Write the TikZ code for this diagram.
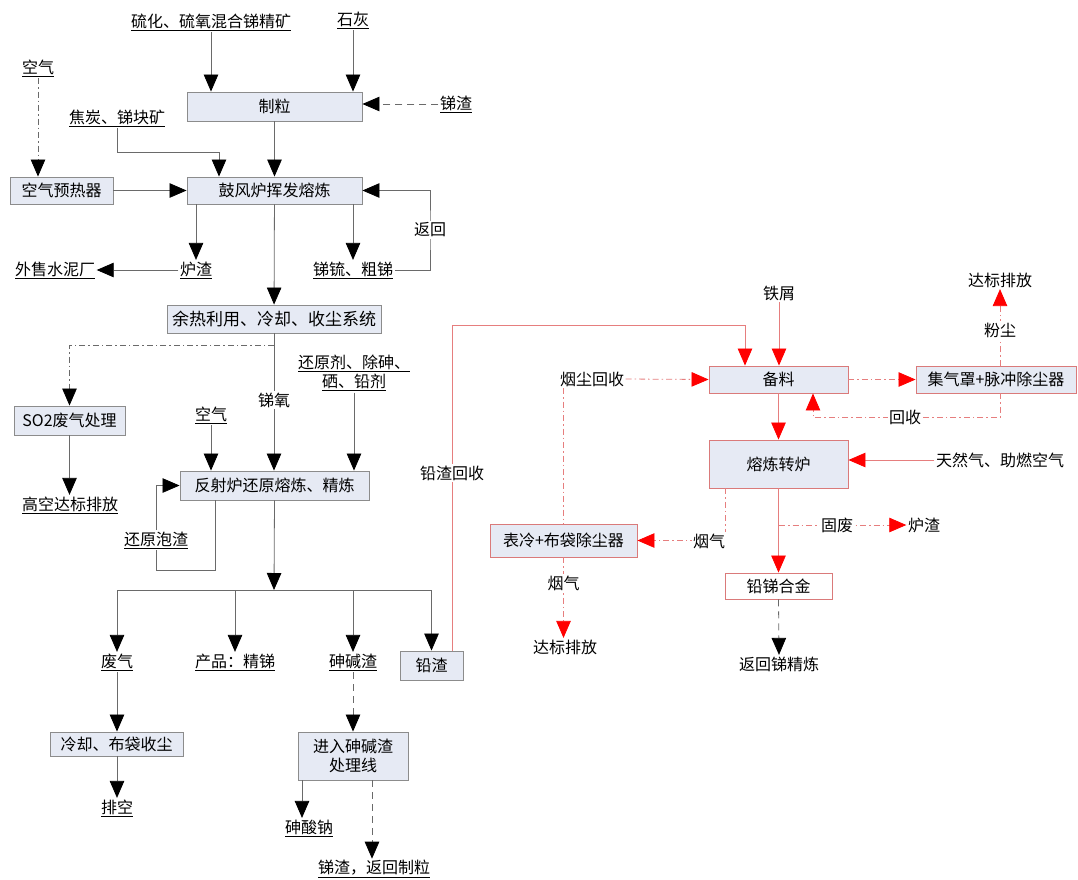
\documentclass[tikz,border=0pt]{standalone}
\usepackage{fontspec}
\setmainfont{Noto Sans CJK SC}
\usetikzlibrary{arrows.meta,calc}
\definecolor{bfill}{HTML}{E6EAF4}
\definecolor{bline}{HTML}{8C8C8C}
\definecolor{fline}{HTML}{6A6A6A}
\definecolor{rline}{HTML}{E67E7E}
\definecolor{rbord}{HTML}{DA7A7A}
\definecolor{rtip}{HTML}{FF0000}
\newcommand\ulx[1]{\underline{#1}}
\begin{document}
\begin{tikzpicture}[x=1pt,y=-1pt,
  font=\fontsize{16}{19}\selectfont,
  box/.style={draw=bline,fill=bfill,line width=0.9pt,inner sep=0pt,align=center},
  rbox/.style={draw=rbord,fill=bfill,line width=0.9pt,inner sep=0pt,align=center},
  lbl/.style={inner sep=1.5pt,align=center},
  onl/.style={inner sep=1.5pt,fill=white},
  flow/.style={draw=fline,line width=0.8pt,-{Triangle[width=14.5pt,length=17pt,fill=black,color=black]}},
  rflow/.style={draw=rline,line width=0.8pt,-{Triangle[width=14.5pt,length=17pt,fill=rtip,color=rtip]}},
  rplain/.style={draw=rline,line width=0.8pt},
  plain/.style={draw=fline,line width=0.8pt},
  dashdot/.style={dash pattern=on 6pt off 3pt on 1.5pt off 3pt},
  dsh/.style={dash pattern=on 7pt off 5pt}
]
\useasboundingbox[fill=white] (0,0) rectangle (1078,879);

% ---------- boxes ----------
\node[box,minimum width=175pt,minimum height=29pt] (zhili) at (274.5,106.5) {制粒};
\node[box,minimum width=175pt,minimum height=27pt] (gufeng) at (274.5,190.5) {鼓风炉挥发熔炼};
\node[box,minimum width=103pt,minimum height=27pt] (kongyu) at (61.5,190.5) {空气预热器};
\node[box,minimum width=214pt,minimum height=28pt,font=\fontsize{17}{20}\selectfont] (yure) at (274,319) {余热利用、冷却、收尘系统};
\node[box,minimum width=111pt,minimum height=29pt] (so2) at (69.5,420.5) {SO2废气处理};
\node[box,minimum width=189pt,minimum height=29pt] (fanshe) at (274.5,485.5) {反射炉还原熔炼、精炼};
\node[box,minimum width=63pt,minimum height=29pt] (qiansha) at (431.5,665.5) {铅渣};
\node[box,minimum width=133pt,minimum height=24pt] (lengque) at (116.5,744) {冷却、布袋收尘};
\node[box,minimum width=110pt,minimum height=48pt] (sjproc) at (353,756) {进入砷碱渣\\处理线};

\node[rbox,minimum width=139pt,minimum height=27pt] (beiliao) at (778.5,379.5) {备料};
\node[rbox,minimum width=160pt,minimum height=27pt] (jiqi) at (996,379.5) {集气罩+脉冲除尘器};
\node[rbox,minimum width=139pt,minimum height=48pt] (zhuanlu) at (778.5,464) {熔炼转炉};
\node[rbox,minimum width=147pt,minimum height=33pt] (biaoleng) at (563.5,540.5) {表冷+布袋除尘器};
\node[rbox,fill=white,minimum width=107pt,minimum height=26pt] (hejin) at (778.5,586) {铅锑合金};

% ---------- text labels ----------
\node[lbl] (t_kuang) at (211,22) {\ulx{硫化、硫氧混合锑精矿}};
\node[lbl] (t_shihui) at (353,20) {\ulx{石灰}};
\node[lbl] (t_tizha) at (456,104) {\ulx{锑渣}};
\node[lbl] (t_kq1) at (38,68) {\ulx{空气}};
\node[lbl] (t_jiaotan) at (117,118) {\ulx{焦炭、锑块矿}};
\node[lbl] (t_luzha) at (196,270) {\ulx{炉渣}};
\node[lbl] (t_waishou) at (55,270) {\ulx{外售水泥厂}};
\node[lbl] (t_tiliu) at (353,270) {\ulx{锑锍、粗锑}};
\node[lbl] (t_huanyuan) at (354,373) {\ulx{还原剂、除砷、}\\\ulx{硒、铅剂}};
\node[lbl] (t_kq2) at (211,415) {\ulx{空气}};
\node[lbl] (t_gaokong) at (70,505) {\ulx{高空达标排放}};
\node[lbl] (t_feiqi) at (117,662) {\ulx{废气}};
\node[lbl] (t_chanpin) at (235,662) {\ulx{产品：精锑}};
\node[lbl] (t_shenjian) at (353,662) {\ulx{砷碱渣}};
\node[lbl] (t_paikong) at (117,808) {\ulx{排空}};
\node[lbl] (t_suanna) at (309,828) {\ulx{砷酸钠}};
\node[lbl] (t_fhzl) at (374,869) {\ulx{锑渣，返回制粒}};

\node[lbl] (t_tiexie) at (779,293) {铁屑};
\node[lbl] (t_dabiao1) at (1000,280) {达标排放};
\node[lbl] (t_yanchen) at (592,379) {烟尘回收};
\node[lbl] (t_tianran) at (1000,460) {天然气、助燃空气};
\node[lbl] (t_dabiao2) at (565,647) {达标排放};
\node[lbl] (t_luzha2) at (924,525) {炉渣};
\node[lbl] (t_fhjl) at (779,664) {返回锑精炼};

% ---------- coordinates ----------
\coordinate (c_jt) at (219,152);
\coordinate (c_ret) at (430,230);
\coordinate (c_so2) at (274,345);
\coordinate (pzA) at (215,570);
\coordinate (pzB) at (156,570);
\coordinate (bus) at (274,590);
\coordinate (rq1) at (452,325);
\coordinate (c_hs) at (905,417);
\coordinate (c_gf) at (779,525);

% ---------- black connectors ----------
\draw[flow] (t_kuang.south) -- (t_kuang.south |- zhili.north);
\draw[flow] (t_shihui.south) -- (t_shihui.south |- zhili.north);
\draw[flow,dsh] (t_tizha.west) -- (t_tizha.west -| zhili.east);
\draw[flow,dashdot] (t_kq1.south) -- (t_kq1.south |- kongyu.north);
\draw[flow] (t_jiaotan.south) |- (c_jt) -- (c_jt |- gufeng.north);
\draw[flow] (zhili) -- (gufeng);
\draw[flow] (kongyu) -- (gufeng);
\draw[flow] (gufeng.south -| t_luzha.north) -- (t_luzha.north);
\draw[flow] (t_luzha.west) -- (t_waishou.east);
\draw[flow] (gufeng.south -| t_tiliu.north) -- (t_tiliu.north);
\draw[flow] (t_tiliu.east) -| (c_ret) |- (gufeng.east);
\node[onl] (l_fanhui) at (c_ret) {返回};
\draw[flow] (gufeng) -- (yure);
\draw[flow,dashdot] (c_so2) -| (so2.north);
\draw[flow] (yure.south) -- (yure.south |- fanshe.north);
\node[onl] (l_tiyang) at (274,400) {锑氧};
\draw[flow] (so2.south) -- (so2.south |- t_gaokong.north);
\draw[flow] (t_huanyuan.south) -- (t_huanyuan.south |- fanshe.north);
\draw[flow] (t_kq2.south) -- (t_kq2.south |- fanshe.north);
\draw[flow] (fanshe.south -| pzA) -- (pzA) -- (pzB) |- (fanshe.west);
\node[onl] (l_paozha) at (156,540) {\ulx{还原泡渣}};
\draw[flow] (fanshe.south) -- (bus);
\draw[plain] (t_feiqi.north |- bus) -- (qiansha.north |- bus);
\draw[flow] (t_feiqi.north |- bus) -- (t_feiqi.north);
\draw[flow] (t_chanpin.north |- bus) -- (t_chanpin.north);
\draw[flow] (t_shenjian.north |- bus) -- (t_shenjian.north);
\draw[flow] (qiansha.north |- bus) -- (qiansha.north);
\draw[flow] (t_feiqi.south) -- (t_feiqi.south |- lengque.north);
\draw[flow] (lengque.south -| t_paikong.north) -- (t_paikong.north);
\draw[flow,dsh] (t_shenjian.south) -- (t_shenjian.south |- sjproc.north);
\draw[flow] ([xshift=-51pt]sjproc.south) -- ([xshift=-51pt]sjproc.south |- t_suanna.north);
\draw[flow,dsh] ([xshift=19pt]sjproc.south) -- ([xshift=19pt]sjproc.south |- t_fhzl.north);

% ---------- red connectors ----------
\draw[rflow] ([xshift=20.5pt]qiansha.north) -- ([xshift=20.5pt]qiansha.north |- rq1) -| ([xshift=-33.5pt]beiliao.north);
\node[onl] (l_qszhs) at (452,473) {铅渣回收};
\draw[rflow] (t_tiexie.south) -- (t_tiexie.south |- beiliao.north);
\draw[rflow,dashdot] (beiliao) -- (jiqi);
\draw[rflow,dashdot] ([xshift=4pt]jiqi.north) -- (t_dabiao1.south);
\node[onl] (l_fenchen) at (1000,330) {粉尘};
\draw[rflow,dashdot] ([xshift=4pt]jiqi.south) |- (c_hs) -| ([xshift=34.5pt]beiliao.south);
\node[onl] (l_huishou) at (c_hs) {回收};
\draw[rflow,dashdot] (t_yanchen.east) -- (beiliao.west);
\draw[rplain,dashdot] (t_yanchen.south -| biaoleng.north) -- (biaoleng.north);
\draw[rflow] (beiliao) -- (zhuanlu);
\draw[rflow] (t_tianran.west) -- (t_tianran.west -| zhuanlu.east);
\draw[rflow,dashdot] ([xshift=-53.5pt]zhuanlu.south) |- (biaoleng.east);
\node[onl] (l_yanqi1) at (709,541) {烟气};
\draw[rflow,dashdot] (biaoleng.south) -- (biaoleng.south |- t_dabiao2.north);
\node[onl] (l_yanqi2) at (563.5,583) {烟气};
\draw[rflow] (zhuanlu) -- (hejin);
\draw[rflow,dashdot] (c_gf) -- (t_luzha2.west);
\node[onl] (l_gufei) at (837,525) {固废};
\draw[flow,dsh] (hejin.south) -- (t_fhjl.north);
\end{tikzpicture}
\end{document}
